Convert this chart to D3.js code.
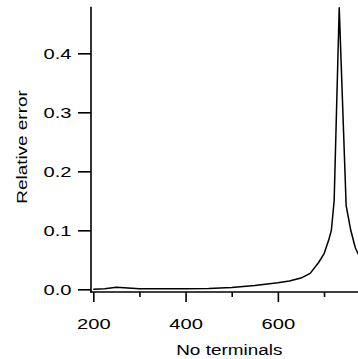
<!DOCTYPE html>
<html>
<head>
<meta charset="utf-8">
<script src="https://cdn.jsdelivr.net/npm/d3@7"></script>
<style>
  html, body { margin: 0; padding: 0; background: #fff; overflow: hidden; }
  text { font-family: "Liberation Sans", Arial, sans-serif; fill: #000; }
</style>
</head>
<body>
<script>
// ---- data ----
const terminals = [200, 225, 250, 275, 300, 350, 400, 450, 500, 550, 600, 625, 650, 670, 688, 700, 710, 716, 722, 733, 748, 758, 768, 780];
const relError  = [0.000, 0.001, 0.0035, 0.002, 0.0008, 0.0008, 0.001, 0.0015, 0.003, 0.0065, 0.011, 0.014, 0.019, 0.027, 0.045, 0.06, 0.083, 0.1, 0.15, 0.477, 0.142, 0.1, 0.07, 0.05];
const xTicks = [200, 300, 400, 500, 600, 700];
const xMajor = [200, 400, 600];
const yTicks = [0.0, 0.1, 0.2, 0.3, 0.4];
const xTitle = "No terminals";
const yTitle = "Relative error";

const W = 358, H = 359;
const svg = d3.select("body").append("svg").attr("width", W).attr("height", H);

const x = d3.scaleLinear().domain([200, 700]).range([93.3, 324]);
const y = d3.scaleLinear().domain([0, 0.4]).range([289.3, 53.3]);
const yTop = 0.479;
const axisX = 91, axisY = 292;

// clip
svg.append("clipPath").attr("id", "clip").append("rect")
  .attr("x", axisX).attr("y", 0).attr("width", W - axisX).attr("height", axisY);

// curve
const pts = terminals.map((t, i) => [t, relError[i]]);
svg.append("path")
  .datum(pts)
  .attr("clip-path", "url(#clip)")
  .attr("fill", "none")
  .attr("stroke", "#000")
  .attr("stroke-width", 1.5)
  .attr("stroke-linejoin", "round")
  .attr("d", d3.line().x(d => x(d[0])).y(d => y(d[1])));

// x axis
const gx = svg.append("g").attr("transform", `translate(0,${axisY})`)
  .call(d3.axisBottom(x).tickValues(xTicks).tickSize(10).tickSizeOuter(0)
    .tickFormat(d => xMajor.includes(d) ? d3.format("d")(d) : ""));
gx.select(".domain").remove();
gx.selectAll(".tick line").attr("stroke", "#000").attr("stroke-width", 1.6)
  .attr("y2", d => xMajor.includes(d) ? 10 : 5);
gx.selectAll(".tick text").attr("font-size", 15.5).attr("y", 0).attr("dy", 0)
  .attr("transform", "translate(0,37)");

// y axis
const gy = svg.append("g").attr("transform", `translate(${axisX},0)`)
  .call(d3.axisLeft(y).tickValues(yTicks).tickSize(13).tickSizeOuter(0).tickFormat(d3.format(".1f")));
gy.select(".domain").remove();
gy.selectAll(".tick line").attr("stroke", "#000").attr("stroke-width", 1.6);
gy.selectAll(".tick text").attr("font-size", 15.5).attr("x", -19.5).attr("dy", "0.36em");

// axis lines
svg.append("line").attr("x1", axisX).attr("x2", axisX).attr("y1", y(yTop)).attr("y2", axisY + 0.8)
  .attr("stroke", "#000").attr("stroke-width", 1.6);
svg.append("line").attr("x1", axisX - 0.8).attr("x2", W).attr("y1", axisY).attr("y2", axisY)
  .attr("stroke", "#000").attr("stroke-width", 1.6);

// titles
svg.append("text").attr("x", 229.3).attr("y", 355).attr("text-anchor", "middle")
  .attr("font-size", 15.5).text(xTitle);
svg.append("text").attr("transform", "translate(27,147) rotate(-90)").attr("text-anchor", "middle")
  .attr("font-size", 15.5).text(yTitle);

// widen glyphs to match reference proportions
function stretch(sel, f) {
  sel.each(function () {
    const w = this.getComputedTextLength();
    d3.select(this).attr("textLength", w * f).attr("lengthAdjust", "spacingAndGlyphs");
  });
}
stretch(gx.selectAll(".tick text"), 1.3);
stretch(gy.selectAll(".tick text"), 1.3);
stretch(svg.selectAll(":scope > text"), 1.22);
</script>
</body>
</html>
